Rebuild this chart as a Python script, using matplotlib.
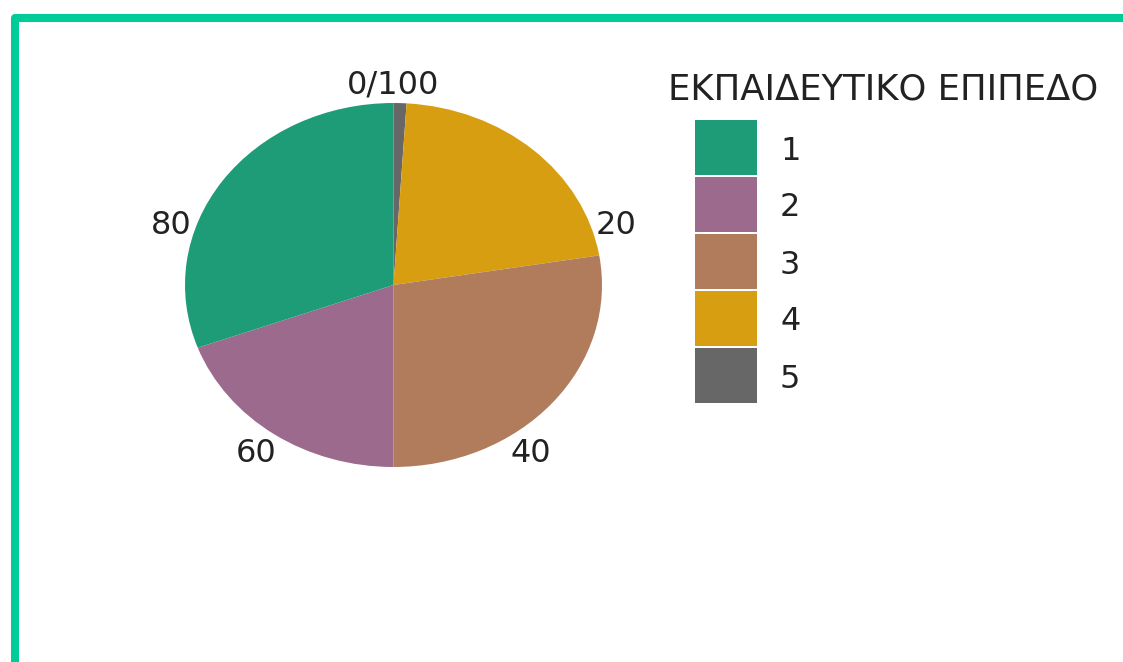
import matplotlib.pyplot as plt
import numpy as np
from matplotlib.patches import Rectangle

# shares of each education level (percent)
levels = ['1', '2', '3', '4', '5']
shares = [30.6, 19.4, 27.6, 21.4, 1.0]
colors = ['#1e9c78', '#9b6a8d', '#b17c5c', '#d89e12', '#676767']
ticks = [0, 20, 40, 60, 80]
tick_labels = ['0/100', '20', '40', '60', '80']
legend_title = 'ΕΚΠΑΙΔΕΥΤΙΚΟ ΕΠΙΠΕΔΟ'

plt.rcParams['font.family'] = ['DejaVu Sans']
txt = '#222222'
fs = 23

W, H = 1123, 662
fig = plt.figure(figsize=(W / 100, H / 100), dpi=100)

def box(x0, y0, x1, y1):
    # pixel box (top-left origin) -> figure fraction rect
    return [x0 / W, 1 - y1 / H, (x1 - x0) / W, (y1 - y0) / H]

ax = fig.add_axes(box(185, 103, 602, 467))
# last level sits at the top, stacking goes clockwise
ax.pie(shares[::-1], colors=colors[::-1], startangle=90, counterclock=False,
       wedgeprops=dict(linewidth=0))
ax.set_aspect('auto')
ax.set_xlim(-1, 1)
ax.set_ylim(-1, 1)
ax.axis('off')

for t, lab in zip(ticks, tick_labels):
    a = 2 * np.pi * t / 100
    ax.text(1.12 * np.sin(a), 1.12 * np.cos(a), lab, ha='center',
            va='center_baseline', fontsize=fs, color=txt, clip_on=False)

# legend: title, colour keys and labels
fig.text(668 / W, 1 - 86 / H, legend_title, ha='left', va='center_baseline',
         fontsize=25.5, color=txt)
key_top, key_h, key_step = 120, 55, 57
for i, (lab, c) in enumerate(zip(levels, colors)):
    y0 = key_top + i * key_step
    fig.add_artist(Rectangle((695 / W, 1 - (y0 + key_h) / H), 62 / W, key_h / H,
                             transform=fig.transFigure, facecolor=c,
                             edgecolor='none'))
    fig.text(780 / W, 1 - (y0 + key_h / 2) / H, lab, ha='left',
             va='center_baseline', fontsize=fs, color=txt)

# frame around the panel
fig.add_artist(Rectangle((15 / W, -0.2), 1.5, 644 / H + 0.2,
                         transform=fig.transFigure, fill=False,
                         edgecolor='#00cc99', linewidth=5.8, joinstyle='round'))

fig.savefig('out.png', dpi=100)
